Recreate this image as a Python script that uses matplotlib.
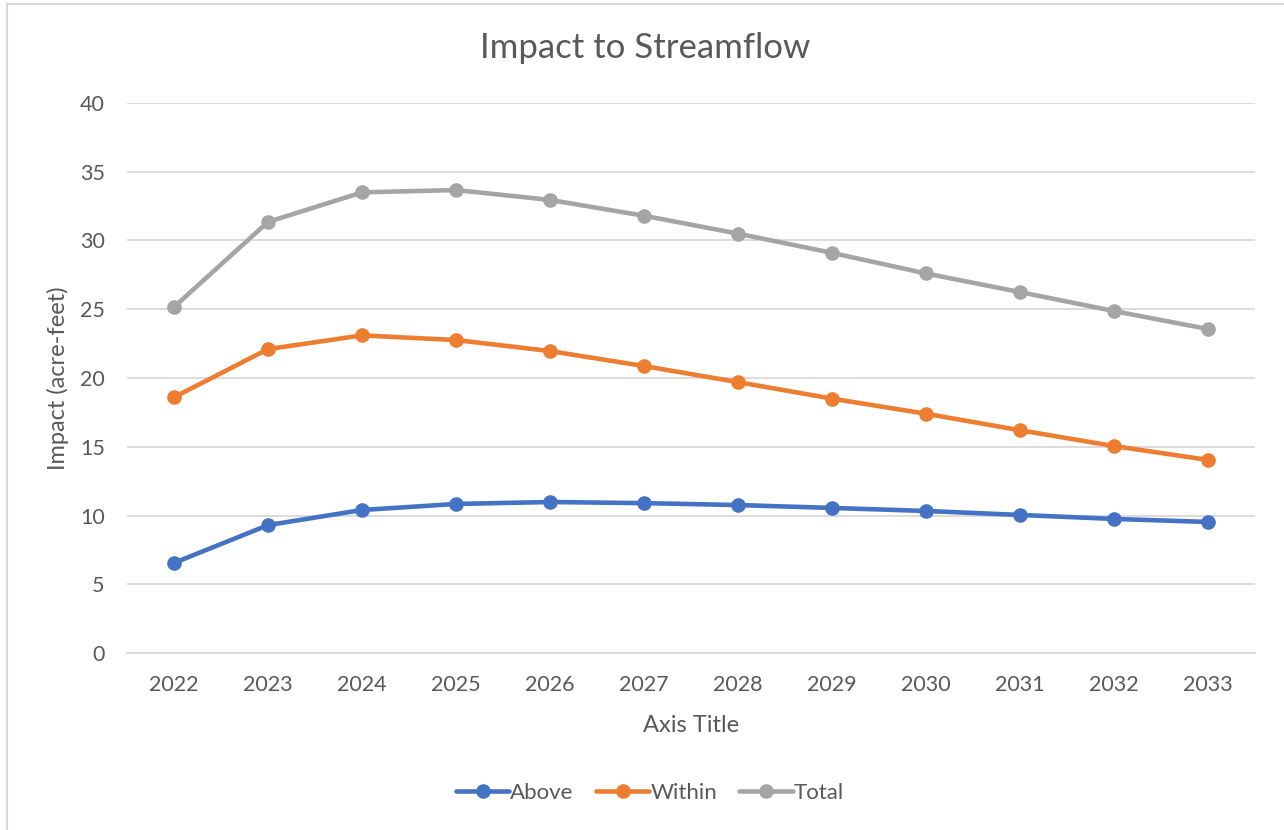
import numpy as np
import matplotlib.pyplot as plt
from matplotlib.patches import Rectangle

plt.rcParams['font.family'] = ['Lato', 'DejaVu Sans']

# Data
years = ['2022', '2023', '2024', '2025', '2026', '2027', '2028', '2029', '2030', '2031', '2032', '2033']
above = [6.55, 9.3, 10.4, 10.84, 10.98, 10.9, 10.76, 10.55, 10.33, 10.04, 9.75, 9.53]
within = [18.6, 22.1, 23.1, 22.76, 21.96, 20.87, 19.7, 18.5, 17.4, 16.2, 15.05, 14.04]
total = [25.16, 31.35, 33.5, 33.67, 32.95, 31.8, 30.5, 29.1, 27.6, 26.25, 24.87, 23.56]

text_color = '#595959'
grid_color = '#D9D9D9'

fig = plt.figure(figsize=(12.84, 8.3), dpi=100)
ax = fig.add_axes([127/1284, 177/830, 1128/1284, 550/830])

# chart area border
fig.patches.append(Rectangle((7/1284, -0.01), 1.02, 1 - 4/830 + 0.01, transform=fig.transFigure,
                             fill=False, edgecolor='#D9D9D9', linewidth=1.5))

x = np.arange(len(years))
series = [('Above', above, '#4472C4'), ('Within', within, '#ED7D31'), ('Total', total, '#A5A5A5')]
for name, vals, col in series:
    ax.plot(x, vals, color=col, linewidth=3.3, marker='o', markersize=9.5,
            solid_capstyle='round', label=name, zorder=3)

ax.set_xlim(-0.5, len(years) - 0.5)
ax.set_ylim(0, 40)
ax.set_yticks(np.arange(0, 41, 5))
ax.set_xticks(x)
ax.set_xticklabels(years)
ax.tick_params(axis='both', length=0, labelsize=15.5, colors=text_color)
ax.tick_params(axis='x', pad=16)
ax.tick_params(axis='y', pad=16)
ax.grid(axis='y', color=grid_color, linewidth=1.3)
ax.set_axisbelow(True)
for s in ['top', 'right', 'left']:
    ax.spines[s].set_visible(False)
ax.spines['bottom'].set_color(grid_color)
ax.spines['bottom'].set_linewidth(1.3)

fig.text(645/1284, 1 - 48/830, 'Impact to Streamflow', fontsize=25, color=text_color,
         ha='center', va='center')
ax.set_xlabel('Axis Title', fontsize=17, color=text_color, labelpad=14)
ax.set_ylabel('Impact (acre-feet)', fontsize=17, color=text_color, labelpad=8)

leg = fig.legend(loc='center', bbox_to_anchor=(650/1284, 1 - 793/830), ncol=3, frameon=False,
                 fontsize=16, handlelength=2.4, handletextpad=0.05, columnspacing=1.0,
                 labelcolor=text_color)

fig.savefig('out.png', dpi=100, facecolor='white')
